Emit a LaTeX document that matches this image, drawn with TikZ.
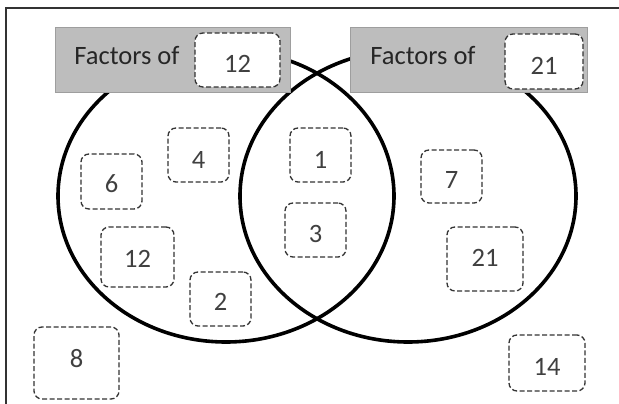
\documentclass[tikz,border=0pt]{standalone}
\usepackage{fontspec}
\setmainfont{Carlito}
% set a number a little lower than the centre of its box
\newcommand\lowered[2]{\raisebox{-#1pt}[\height][\depth]{#2}}
\begin{document}
\begin{tikzpicture}[x=1pt,y=-1pt,
  ring/.style={line width=3.6pt,draw=black},
  header/.style={draw=black!38,fill=black!26,line width=1pt,inner sep=0pt},
  numbox/.style={draw=black!80,fill=white,dashed,dash pattern=on 5pt off 2.5pt,
    line width=1.3pt,rounded corners=8pt,inner sep=0pt,text=black!75},
  lbl/.style={text=black!85,inner sep=0pt},
  every node/.append style={font=\fontsize{26.5}{30}\selectfont}]
  \useasboundingbox (0,0) rectangle (619,404);
  \fill[white] (0,0) rectangle (619,404);
  % frame along the top and left edges
  \draw[black!80,line width=1.5pt] (619,8) -- (6,8) -- (6,404);
  % the two sets
  \draw[ring,fill=white] (226,196) ellipse [x radius=168,y radius=146];
  \draw[ring] (408,196) ellipse [x radius=168,y radius=146];
  % set headers
  \node[header,minimum width=235pt,minimum height=65pt] (h12) at (172.5,60.5) {};
  \node[header,minimum width=237pt,minimum height=65pt] (h21) at (468.5,60.5) {};
  \node[lbl] (t12) at (127,56) {Factors of};
  \node[lbl] (t21) at (423,56) {Factors of};
  \node[numbox,minimum width=85pt,minimum height=54pt] (n12h) at (237.5,60) {\lowered{3.5}{12}};
  \node[numbox,minimum width=78pt,minimum height=55pt] (n21h) at (544,61.5) {\lowered{4.5}{21}};
  % numbers placed in the diagram
  \node[numbox,minimum width=61pt,minimum height=54pt] (n4) at (198.5,155) {\lowered{5}{4}};
  \node[numbox,minimum width=61pt,minimum height=55pt] (n6) at (111.5,181.5) {\lowered{2.5}{6}};
  \node[numbox,minimum width=61pt,minimum height=54pt] (n1) at (320.5,155) {\lowered{5}{1}};
  \node[numbox,minimum width=61pt,minimum height=54pt] (n3) at (315.5,230) {\lowered{3.5}{3}};
  \node[numbox,minimum width=61pt,minimum height=53pt] (n7) at (451.5,176.5) {\lowered{3.5}{7}};
  \node[numbox,minimum width=73pt,minimum height=60pt] (n12) at (137.5,257) {\lowered{1.5}{12}};
  \node[numbox,minimum width=61pt,minimum height=54pt] (n2) at (220.5,299) {\lowered{2.5}{2}};
  \node[numbox,minimum width=76pt,minimum height=64pt] (n21) at (485,259) {\lowered{-1.5}{21}};
  \node[numbox,minimum width=85pt,minimum height=72pt] (n8) at (76.5,363) {\lowered{-4.5}{8}};
  \node[numbox,minimum width=76pt,minimum height=56pt] (n14) at (547,363) {\lowered{3.5}{14}};
\end{tikzpicture}
\end{document}
